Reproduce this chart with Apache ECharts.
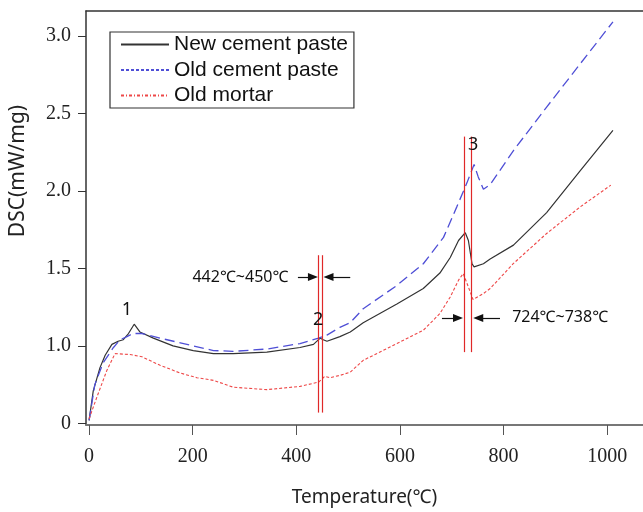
<!DOCTYPE html>
<html>
<head>
<meta charset="utf-8">
<script src="https://cdn.jsdelivr.net/npm/echarts@6/dist/echarts.min.js"></script>
<style>
  html, body { margin: 0; padding: 0; background: #fff; }
  #dscChart { width: 643px; height: 512px; }
</style>
</head>
<body>
<div id="dscChart"></div>
<script>
// 刻度
var xTicks = [0, 200, 400, 600, 800, 1000];
var yTicks = [0.5, 1.0, 1.5, 2.0, 2.5, 3.0];
var yTickLabels = ['0', '1.0', '1.5', '2.0', '2.5', '3.0'];

// New cement paste
var newPasteT = [0, 8, 21, 31, 44, 56, 66, 76, 87, 98, 124, 162, 201, 240, 278, 343, 407, 433, 446, 452, 459, 484, 504, 529, 594, 645, 677, 697, 713, 726, 732, 739, 743, 761, 774, 819, 883, 948, 1011];
var newPasteDsc = [0.52, 0.71, 0.86, 0.94, 1.01, 1.03, 1.04, 1.08, 1.14, 1.09, 1.05, 1.00, 0.97, 0.95, 0.95, 0.96, 0.99, 1.01, 1.05, 1.04, 1.03, 1.06, 1.09, 1.15, 1.27, 1.37, 1.47, 1.57, 1.68, 1.73, 1.68, 1.53, 1.51, 1.53, 1.56, 1.65, 1.86, 2.13, 2.39];

// Old cement paste
var oldPasteT = [0, 11, 27, 47, 60, 73, 85, 102, 137, 176, 240, 278, 343, 407, 443, 459, 484, 504, 529, 594, 645, 684, 710, 729, 743, 751, 761, 774, 819, 883, 948, 1011];
var oldPasteDsc = [0.52, 0.75, 0.89, 0.99, 1.04, 1.06, 1.08, 1.08, 1.05, 1.02, 0.97, 0.965, 0.98, 1.015, 1.05, 1.07, 1.12, 1.15, 1.24, 1.39, 1.53, 1.70, 1.90, 2.05, 2.17, 2.09, 2.01, 2.04, 2.26, 2.54, 2.82, 3.09];

// Old mortar
var mortarT = [0, 15, 34, 50, 79, 102, 137, 176, 208, 240, 278, 343, 407, 443, 455, 465, 484, 504, 529, 594, 645, 677, 697, 713, 722, 732, 741, 761, 774, 819, 883, 948, 1007];
var mortarDsc = [0.53, 0.67, 0.84, 0.95, 0.945, 0.93, 0.875, 0.825, 0.795, 0.778, 0.734, 0.718, 0.739, 0.767, 0.804, 0.795, 0.81, 0.831, 0.907, 1.015, 1.101, 1.209, 1.316, 1.424, 1.467, 1.38, 1.299, 1.338, 1.37, 1.532, 1.725, 1.897, 2.037];

// 标注
var peakLabels = [['1', 73, 1.23], ['2', 442, 1.165], ['3', 741, 2.296]];
var rangeTexts = [['442℃~450℃', 292, 1.44], ['724℃~738℃', 909, 1.185]];
var redLines = [[442, 0.57, 1.585], [450, 0.57, 1.585], [724, 0.96, 2.35], [738, 0.96, 2.35]];
var arrows = [[403, 432, 1.445], [504, 462, 1.445], [681, 712, 1.18], [793, 751, 1.18]];

function pairs(xs, ys) {
  return xs.map(function (x, i) { return [x, ys[i]]; });
}

var markLines = redLines.map(function (l) {
  return [{ coord: [l[0], l[1]] }, { coord: [l[0], l[2]] }];
}).concat(arrows.map(function (a) {
  return [
    { coord: [a[0], a[2]], symbol: 'none' },
    { coord: [a[1], a[2]], symbol: 'triangle', symbolSize: [8, 10], lineStyle: { color: '#111', width: 1.2 } }
  ];
}));

var markPoints = peakLabels.map(function (p) {
  return { name: p[0], coord: [p[1], p[2]], label: { fontSize: 18 } };
}).concat(rangeTexts.map(function (p) {
  return { name: p[0], coord: [p[1], p[2]], label: { fontSize: 16 } };
}));

var serif = 'Liberation Serif';
var sans = 'Noto Sans';

var option = {
  animation: false,
  backgroundColor: '#fff',
  grid: { left: 86, right: 0, top: 11, bottom: 87, outerBoundsMode: 'none' },
  legend: {
    left: 110,
    top: 32,
    orient: 'vertical',
    itemWidth: 48,
    itemHeight: 14,
    itemGap: 4.5,
    padding: [2, 6, 2, 10],
    borderColor: '#333',
    borderWidth: 1.2,
    itemStyle: { opacity: 0 },
    textStyle: { fontFamily: 'Liberation Sans', fontSize: 21, color: '#111' },
    data: [
      { name: 'New cement paste' },
      { name: 'Old cement paste', lineStyle: { type: [3, 2] } },
      { name: 'Old mortar', lineStyle: { type: [3, 2, 1, 2] } }
    ]
  },
  xAxis: [{
    type: 'value',
    min: -6,
    max: 1069,
    name: 'Temperature(℃)',
    nameLocation: 'middle',
    nameGap: 63,
    nameTextStyle: { fontFamily: sans, fontSize: 19, color: '#222' },
    axisLine: { show: true, onZero: false, lineStyle: { color: '#777', width: 2 } },
    axisTick: { show: true, inside: false, length: 10, customValues: xTicks, lineStyle: { color: '#555' } },
    axisLabel: {
      customValues: xTicks,
      margin: 22,
      fontFamily: serif,
      fontSize: 20,
      color: '#222',
      formatter: function (v) { return String(v); }
    },
    splitLine: { show: false }
  }, {
    type: 'value',
    position: 'top',
    min: -6,
    max: 1069,
    axisLine: { show: true, lineStyle: { color: '#333', width: 1.5 } },
    axisTick: { show: false },
    axisLabel: { show: false },
    splitLine: { show: false }
  }],
  yAxis: {
    type: 'value',
    min: 0.49,
    max: 3.16,
    axisLine: { show: true, onZero: false, lineStyle: { color: '#333', width: 1.5 } },
    axisTick: { show: true, length: 8, customValues: yTicks, lineStyle: { color: '#333' } },
    axisLabel: {
      customValues: yTicks,
      margin: 15,
      fontFamily: serif,
      fontSize: 20,
      color: '#222',
      formatter: function (v) {
        for (var i = 0; i < yTicks.length; i++) {
          if (Math.abs(yTicks[i] - v) < 1e-6) return yTickLabels[i];
        }
        return '';
      }
    },
    splitLine: { show: false }
  },
  graphic: [{
    type: 'text',
    x: 18,
    y: 171,
    rotation: Math.PI / 2,
    style: {
      text: 'DSC(mW/mg)',
      fontFamily: sans,
      fontSize: 21,
      fill: '#222',
      align: 'center',
      verticalAlign: 'middle'
    }
  }],
  series: [{
    name: 'New cement paste',
    type: 'line',
    showSymbol: false,
    symbol: 'none',
    lineStyle: { color: '#333', width: 1.2, type: 'solid' },
    itemStyle: { color: '#333' },
    data: pairs(newPasteT, newPasteDsc)
  }, {
    name: 'Old cement paste',
    type: 'line',
    showSymbol: false,
    symbol: 'none',
    lineStyle: { color: '#4f4fd6', width: 1.3, type: [10, 5] },
    itemStyle: { color: '#4f4fd6' },
    data: pairs(oldPasteT, oldPasteDsc)
  }, {
    name: 'Old mortar',
    type: 'line',
    showSymbol: false,
    symbol: 'none',
    lineStyle: { color: '#ee4848', width: 1.1, type: [3, 2] },
    itemStyle: { color: '#ee4848' },
    data: pairs(mortarT, mortarDsc)
  }, {
    name: 'annotations',
    type: 'line',
    data: [],
    silent: true,
    markLine: {
      silent: true,
      symbol: 'none',
      label: { show: false },
      lineStyle: { color: '#e02828', width: 1.2, type: 'solid' },
      emphasis: { disabled: true },
      data: markLines
    },
    markPoint: {
      silent: true,
      symbol: 'rect',
      symbolSize: 1,
      itemStyle: { color: 'rgba(0,0,0,0)' },
      label: { show: true, position: 'inside', formatter: '{b}', fontFamily: sans, color: '#111' },
      data: markPoints
    }
  }]
};

var dscChart = echarts.init(document.getElementById('dscChart'));
dscChart.setOption(option);
</script>
</body>
</html>
